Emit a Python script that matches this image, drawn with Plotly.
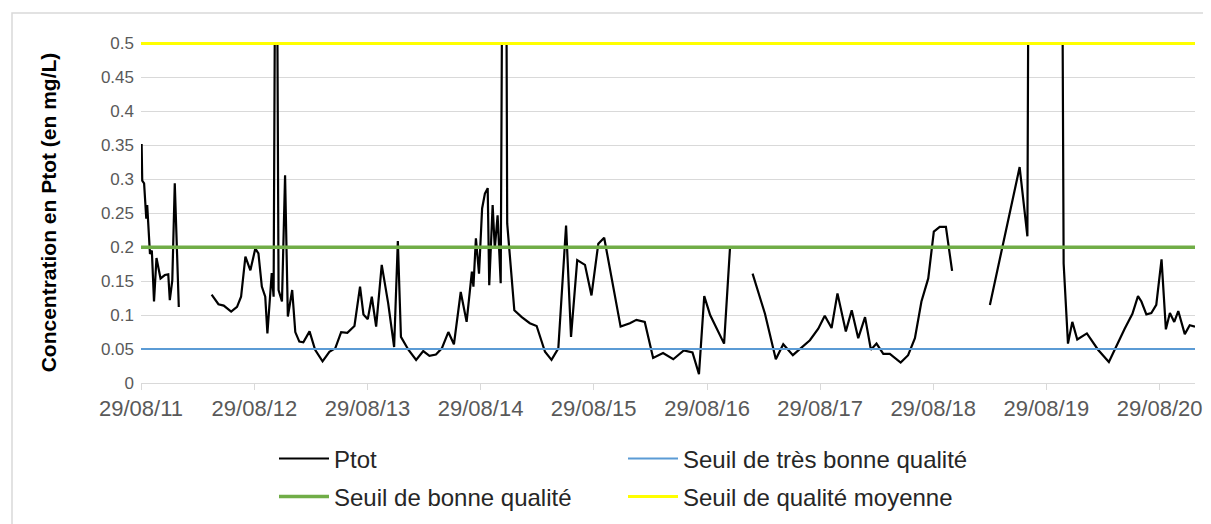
import plotly.graph_objects as go

# ---------------- data ----------------
ptot_dates = [
    "2011-08-31", "2011-09-02", "2011-09-08", "2011-09-15", "2011-09-18", "2011-09-27",
    "2011-10-03", "2011-10-10", "2011-10-18", "2011-10-31", "2011-11-14", "2011-11-25",
    "2011-11-30", "2011-12-08", "2011-12-16", "2011-12-29", "2012-02-15",
    "2012-04-13", "2012-05-05", "2012-05-22", "2012-06-15", "2012-07-04", "2012-07-17",
    "2012-07-31", "2012-08-16", "2012-09-01", "2012-09-11", "2012-09-22", "2012-10-03",
    "2012-10-10", "2012-10-24", "2012-10-30", "2012-11-07", "2012-11-15", "2012-11-26",
    "2012-12-06", "2012-12-15", "2012-12-29", "2013-01-08", "2013-01-21", "2013-02-03",
    "2013-02-23", "2013-03-13", "2013-04-06", "2013-04-28", "2013-05-17", "2013-06-05",
    "2013-06-25", "2013-07-18", "2013-08-05", "2013-08-16", "2013-08-30", "2013-09-12",
    "2013-09-26", "2013-10-14", "2013-11-04", "2013-11-23", "2013-12-05", "2013-12-15",
    "2014-01-08", "2014-02-02", "2014-02-25", "2014-03-17", "2014-04-07", "2014-04-26",
    "2014-05-17", "2014-06-04", "2014-06-26", "2014-07-15", "2014-08-01", "2014-08-06",
    "2014-08-14", "2014-08-24", "2014-09-03", "2014-09-12", "2014-09-21", "2014-09-26",
    "2014-10-07", "2014-10-14", "2014-10-23", "2014-11-02", "2014-11-10", "2014-11-18",
    "2014-11-23", "2014-12-16", "2015-01-09", "2015-02-04", "2015-02-26", "2015-03-25",
    "2015-04-15", "2015-05-07", "2015-06-01", "2015-06-17", "2015-07-07", "2015-08-01",
    "2015-08-22", "2015-09-13", "2015-10-02", "2015-11-24", "2015-12-24", "2016-01-14",
    "2016-02-10", "2016-03-08", "2016-04-09", "2016-05-12", "2016-06-15", "2016-07-13",
    "2016-08-03", "2016-08-20", "2016-09-08", "2016-10-23", "2016-11-11", "2016-12-15",
    "2017-01-23", "2017-03-04", "2017-04-08", "2017-05-02", "2017-06-02", "2017-07-01",
    "2017-07-27", "2017-08-23", "2017-09-13", "2017-10-05", "2017-10-24", "2017-11-20",
    "2017-12-09", "2017-12-30", "2018-01-21", "2018-02-09", "2018-02-27", "2018-03-21",
    "2018-04-11", "2018-05-16", "2018-06-09", "2018-07-01", "2018-07-22", "2018-08-13",
    "2018-08-31", "2018-09-19", "2018-10-09", "2018-10-29", "2018-12-15",
    "2019-02-28", "2019-06-04", "2019-06-29", "2019-07-05", "2019-08-20", "2019-10-17",
    "2019-10-24", "2019-11-07", "2019-11-21", "2019-12-07", "2020-01-07", "2020-02-12",
    "2020-03-18", "2020-04-09", "2020-05-08", "2020-06-02", "2020-06-20", "2020-07-01",
    "2020-07-17", "2020-08-02", "2020-08-18", "2020-09-04", "2020-09-18", "2020-10-01",
    "2020-10-15", "2020-10-28", "2020-11-18", "2020-12-04", "2020-12-21",
]
ptot_values = [
    0.352, 0.298, 0.294, 0.242, 0.262, 0.190,
    0.195, 0.120, 0.184, 0.154, 0.159, 0.160,
    0.122, 0.151, 0.294, 0.112, None,
    0.130, 0.116, 0.114, 0.105, 0.112, 0.127,
    0.186, 0.166, 0.198, 0.191, 0.142, 0.127,
    0.073, 0.162, 0.127, 0.950, 0.137, 0.120,
    0.306, 0.098, 0.137, 0.075, 0.061, 0.060,
    0.076, 0.049, 0.032, 0.046, 0.051, 0.075,
    0.074, 0.084, 0.142, 0.101, 0.094, 0.127,
    0.083, 0.174, 0.117, 0.053, 0.209, 0.068,
    0.049, 0.034, 0.047, 0.040, 0.042, 0.051,
    0.075, 0.057, 0.134, 0.090, 0.164, 0.142,
    0.213, 0.161, 0.257, 0.279, 0.287, 0.144,
    0.262, 0.198, 0.247, 0.147, 0.900, 0.900,
    0.235, 0.107, 0.097, 0.088, 0.084, 0.046,
    0.034, 0.051, 0.232, 0.068, 0.181, 0.174,
    0.129, 0.205, 0.214, 0.083, 0.088, 0.093,
    0.090, 0.037, 0.044, 0.035, 0.048, 0.045,
    0.013, 0.128, 0.100, 0.058, 0.198, None,
    0.161, 0.102, 0.035, 0.057, 0.041, 0.053,
    0.063, 0.080, 0.099, 0.081, 0.132, 0.076,
    0.107, 0.066, 0.097, 0.049, 0.058, 0.043,
    0.043, 0.030, 0.041, 0.066, 0.120, 0.154,
    0.223, 0.230, 0.230, 0.165, None,
    0.115, 0.318, 0.216, 0.950, 1.300, 0.900,
    0.176, 0.058, 0.090, 0.064, 0.073, 0.049,
    0.031, 0.053, 0.080, 0.102, 0.128, 0.120,
    0.101, 0.103, 0.115, 0.182, 0.079, 0.103,
    0.090, 0.106, 0.072, 0.085, 0.083,
]

threshold_names = ["Seuil de très bonne qualité", "Seuil de bonne qualité", "Seuil de qualité moyenne"]
threshold_values = [0.05, 0.2, 0.5]
threshold_colors = ["#5B9BD5", "#70AD47", "#FFFF00"]
threshold_widths = [2, 3.5, 3]

x_start = "2011-08-29"
x_end = "2020-12-21"
y_ticks = [0, 0.05, 0.1, 0.15, 0.2, 0.25, 0.3, 0.35, 0.4, 0.45, 0.5]

# ---------------- layout geometry ----------------
# the page adds an 8px body margin, so the figure is drawn 8px smaller
# and all positions below are expressed in screen pixels minus that offset
OFF = 8
W, H = 1211 - OFF, 524 - OFF
PX_PER_UNIT = 680                      # 0.05 -> 34 px
HEADROOM = 1.5                         # px above 0.5 so the yellow line is not clipped
Y_TOP = 0.5 + HEADROOM / PX_PER_UNIT
ML = 141 - OFF
PW = 1054
PH = 340 + HEADROOM
MT = 383 - OFF - PH
MB = H - MT - PH
MR = W - ML - PW


def px_x(px):
    return (px - OFF - ML) / PW


def px_y(py):
    return (383 - py) / PH


FONT = "Liberation Sans, Arial, sans-serif"

fig = go.Figure()

fig.add_trace(go.Scatter(
    x=ptot_dates, y=ptot_values, mode="lines", name="Ptot",
    line=dict(color="#000000", width=2.2), connectgaps=False, legend="legend",
))

legend_of = ["legend", "legend2", "legend2"]
for name, val, col, wd, lg in zip(threshold_names, threshold_values, threshold_colors,
                                  threshold_widths, legend_of):
    fig.add_trace(go.Scatter(
        x=[x_start, x_end], y=[val, val], mode="lines", name=name,
        line=dict(color=col, width=wd), legend=lg,
    ))

legend_common = dict(
    orientation="h", xanchor="left", yanchor="middle",
    font=dict(family=FONT, size=24, color="#262626"),
    bgcolor="rgba(0,0,0,0)", entrywidth=284, entrywidthmode="pixels",
    itemwidth=50,
)

fig.update_layout(
    width=W, height=H,
    margin=dict(l=ML, r=MR, t=MT, b=MB, autoexpand=False),
    paper_bgcolor="white", plot_bgcolor="white",
    font=dict(family=FONT, color="#595959"),
    showlegend=True,
    legend=dict(x=px_x(274), y=px_y(459), **legend_common),
    legend2=dict(x=px_x(274), y=px_y(497), **legend_common),
    xaxis=dict(
        type="date", range=[x_start, x_end],
        tick0=x_start, dtick="M12", tickformat="%d/%m/%y",
        ticks="outside", ticklen=6, tickcolor="#d9d9d9", tickwidth=1,
        showline=True, linecolor="#d9d9d9", linewidth=1,
        showgrid=False, zeroline=False, automargin=False,
        tickfont=dict(family=FONT, size=22, color="#595959"),
    ),
    yaxis=dict(
        range=[0, Y_TOP], tickmode="array", tickvals=y_ticks,
        ticktext=[f"{v:g}" for v in y_ticks],
        showgrid=True, gridcolor="#d9d9d9", gridwidth=1,
        zeroline=False, showline=False, automargin=False,
        ticks="", ticklabelstandoff=6,
        tickfont=dict(family=FONT, size=17, color="#595959"),
        title=dict(text="Concentration en Ptot (en mg/L)", standoff=38,
                   font=dict(family=FONT, size=21, color="#000000", weight="bold")),
    ),
    shapes=[dict(
        type="rect", xref="paper", yref="paper",
        x0=px_x(12), x1=px_x(1240), y0=px_y(560), y1=px_y(12.5),
        line=dict(color="#d9d9d9", width=1.5), fillcolor="rgba(0,0,0,0)", layer="below",
    )],
)

fig.write_html("out.html")
